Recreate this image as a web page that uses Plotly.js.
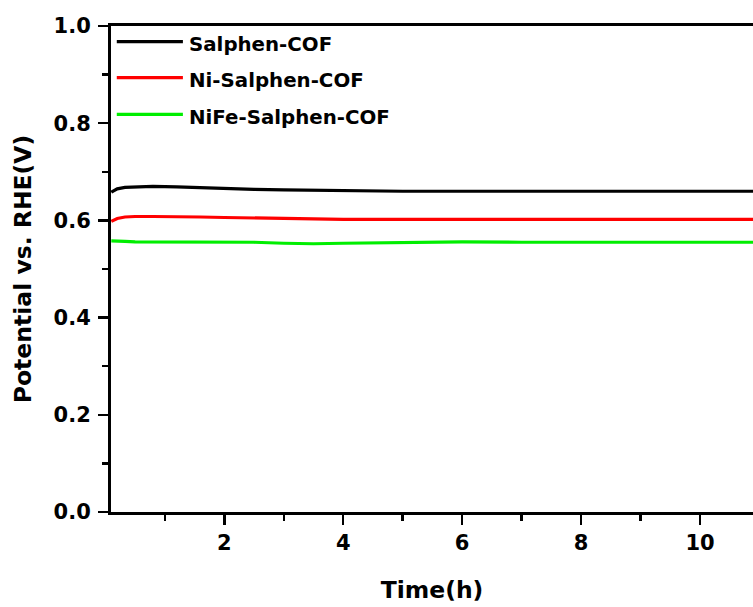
<!DOCTYPE html>
<html>
<head>
<meta charset="utf-8">
<script src="https://cdn.plot.ly/plotly-3.0.1.min.js"></script>
<style>html,body{margin:0;padding:0;background:#fff;}#chart{width:753px;height:607px;}</style>
</head>
<body>
<div id="chart"></div>
<script>
// ---- data ----
var seriesNames = ["Salphen-COF", "Ni-Salphen-COF", "NiFe-Salphen-COF"];
var seriesColors = ["#000000", "#ff0000", "#00ee00"];
var timeH = [0.1, 0.2, 0.33, 0.5, 0.8, 1.2, 1.6, 2.0, 2.5, 3.0, 3.5, 4.0, 5.0, 6.0, 7.0, 8.0, 9.0, 10.0, 11.0];
var salphen   = [0.658, 0.665, 0.668, 0.669, 0.670, 0.669, 0.667, 0.665, 0.664, 0.663, 0.662, 0.661, 0.660, 0.660, 0.660, 0.660, 0.660, 0.660, 0.660];
var niSalphen = [0.598, 0.604, 0.607, 0.608, 0.608, 0.608, 0.607, 0.606, 0.605, 0.604, 0.603, 0.602, 0.602, 0.602, 0.602, 0.602, 0.602, 0.602, 0.602];
var nifeSalphen = [0.558, 0.557, 0.557, 0.556, 0.556, 0.556, 0.555, 0.555, 0.555, 0.553, 0.552, 0.553, 0.555, 0.556, 0.555, 0.555, 0.555, 0.555, 0.555];
var xTickVals = [2, 4, 6, 8, 10];
var yTickVals = [0.0, 0.2, 0.4, 0.6, 0.8, 1.0];
var yTickText = ["0.0", "0.2", "0.4", "0.6", "0.8", "1.0"];
var xTitle = "Time(h)";
var yTitle = "Potential vs. RHE(V)";

var allY = [salphen, niSalphen, nifeSalphen];
var FONT = "DejaVu Sans, Liberation Sans, Arial, sans-serif";

var traces = allY.map(function (ys, i) {
  return {
    x: timeH, y: ys, type: "scatter", mode: "lines",
    name: seriesNames[i], showlegend: false,
    line: {color: seriesColors[i], width: 3.2}
  };
});

// custom legend (longer line samples as in the reference)
var legY = [0.9677, 0.8936, 0.8183];
var shapes = [], annotations = [];
seriesNames.forEach(function (n, i) {
  shapes.push({type: "line", xref: "paper", yref: "paper",
    x0: 0.009, x1: 0.112, y0: legY[i], y1: legY[i],
    line: {color: seriesColors[i], width: 3.2}});
  annotations.push({xref: "paper", yref: "paper", x: 0.119, y: legY[i] - 0.006,
    xanchor: "left", yanchor: "middle", showarrow: false, text: n,
    font: {family: FONT, size: 19.8, color: "#000", weight: "bold"}});
});

var layout = {
  width: 753, height: 607,
  margin: {l: 111, r: 0, t: 26, b: 95},
  paper_bgcolor: "#fff", plot_bgcolor: "#fff",
  showlegend: false,
  xaxis: {
    range: [0.095, 10.89], tickvals: xTickVals,
    showgrid: false, zeroline: false,
    showline: true, linecolor: "#000", linewidth: 3, mirror: true,
    ticks: "outside", ticklen: 10, tickwidth: 2.5, tickcolor: "#000",
    ticklabelstandoff: 0,
    minor: {dtick: 1, tick0: 1, ticks: "outside", ticklen: 6, tickwidth: 2.5, tickcolor: "#000", showgrid: false},
    tickfont: {family: FONT, size: 21, color: "#000", weight: "bold"},
    title: {text: xTitle, standoff: 28, font: {family: FONT, size: 23.5, color: "#000", weight: "bold"}}
  },
  yaxis: {
    range: [0, 1], tickvals: yTickVals, ticktext: yTickText,
    showgrid: false, zeroline: false,
    showline: true, linecolor: "#000", linewidth: 3, mirror: false,
    ticks: "outside", ticklen: 10, tickwidth: 2.5, tickcolor: "#000",
    ticklabelstandoff: 3,
    minor: {dtick: 0.1, tick0: 0, ticks: "outside", ticklen: 6, tickwidth: 2.5, tickcolor: "#000", showgrid: false},
    tickfont: {family: FONT, size: 21, color: "#000", weight: "bold"},
    title: {text: yTitle, standoff: 16, font: {family: FONT, size: 23.5, color: "#000", weight: "bold"}}
  },
  shapes: shapes,
  annotations: annotations
};

Plotly.newPlot("chart", traces, layout, {displayModeBar: false, staticPlot: true});
</script>
</body>
</html>
